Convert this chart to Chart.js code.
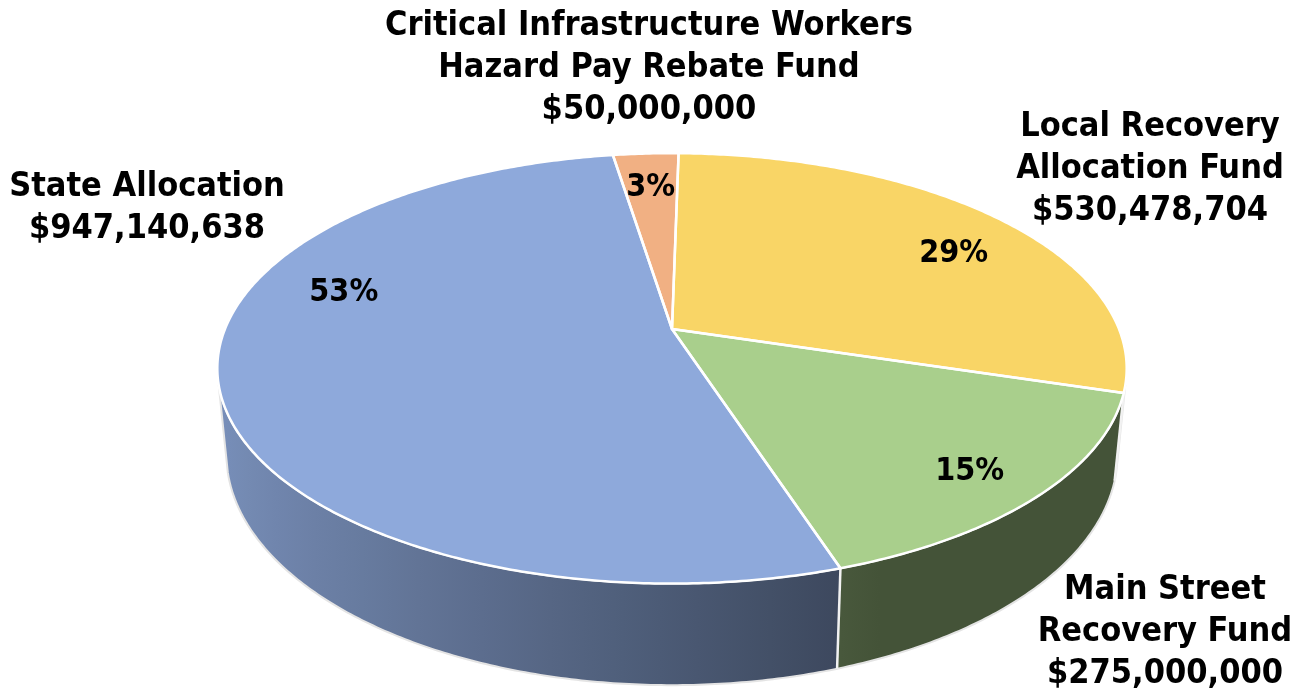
<!DOCTYPE html>
<html>
<head>
<meta charset="utf-8">
<script src="https://cdn.jsdelivr.net/npm/chart.js@4.4.1/dist/chart.umd.min.js"></script>
<style>
  html, body { margin: 0; padding: 0; background: #fff; }
  #wrap { width: 1315px; height: 696px; position: relative; }
</style>
</head>
<body>
<div id="wrap"><canvas id="chart"></canvas></div>
<script>
// slices, clockwise from 12 o'clock
const labels = [
  "Local Recovery Allocation Fund",
  "Main Street Recovery Fund",
  "State Allocation",
  "Critical Infrastructure Workers Hazard Pay Rebate Fund",
];
const amounts = [530478704, 275000000, 947140638, 50000000];
const labelLines = [
  ["Local Recovery", "Allocation Fund"],
  ["Main Street", "Recovery Fund"],
  ["State Allocation"],
  ["Critical Infrastructure Workers", "Hazard Pay Rebate Fund"],
];
const topColors = ["#F9D566", "#A9CF8C", "#8EA9DB", "#F1B083"];

// styling / placement
const outerLabelPos = [[1150, 127], [1165, 590], [147, 187], [649, 26]];
const pctRadius = [0.78, 0.85, 0.78, 0.78];
const pctShiftDeg = [6, 1.5, 27, 0];
const lineGap = 42;
const FONT = "bold 34px 'DejaVu Sans Condensed', 'DejaVu Sans', sans-serif";
const PCT_FONT = "bold 32px 'DejaVu Sans Condensed', 'DejaVu Sans', sans-serif";

// fake 3d view
const view = { A: 447, B: 208, k: 0.183, H: 83, taper: 0.98, wallFrom: 15 * Math.PI / 180 };

const total = amounts.reduce((a, b) => a + b, 0);
const fmtMoney = (v) => "$" + new Intl.NumberFormat("en-US").format(v);

const project = (cx, cy, a, r, h) => {
  const u = Math.cos(a) * r;
  const v = Math.sin(a) * r;
  const s = 1 / (1 - view.k * v);
  const t = 1 - (1 - view.taper) * (h / view.H);
  return [cx + view.A * u * s * t, cy + (view.B * v + h) * s];
};

const shadeOf = (hex, a) => {
  const f = Math.max(0.4, 0.86 - 0.33 * (Math.cos(a) + 1));
  const n = parseInt(hex.slice(1), 16);
  const r = Math.round(((n >> 16) & 255) * f);
  const g = Math.round(((n >> 8) & 255) * f);
  const b = Math.round((n & 255) * f);
  return `rgb(${r},${g},${b})`;
};

const rimPath = (ctx, cx, cy, a1, a2, h, moveFirst) => {
  const steps = Math.max(4, Math.ceil(Math.abs(a2 - a1) / 0.01));
  for (let i = 0; i <= steps; i++) {
    const a = a1 + (a2 - a1) * (i / steps);
    const [x, y] = project(cx, cy, a, 1, h);
    if (i === 0 && moveFirst) ctx.moveTo(x, y);
    else ctx.lineTo(x, y);
  }
};

const pie3d = {
  id: "pie3d",
  beforeDatasetsDraw(chart) {
    const ctx = chart.ctx;
    const arcs = chart.getDatasetMeta(0).data;
    if (!arcs.length) return false;
    const cx = arcs[0].x;
    const cy = arcs[0].y;
    const lo0 = view.wallFrom;
    const hi0 = Math.PI - view.wallFrom;

    ctx.save();
    ctx.lineJoin = "round";

    // side walls
    arcs.forEach((arc) => {
      const lo = Math.max(arc.startAngle, lo0);
      const hi = Math.min(arc.endAngle, hi0);
      if (hi <= lo) return;
      const xl = project(cx, cy, hi, 1, 0)[0];
      const xr = project(cx, cy, lo, 1, 0)[0];
      const grad = ctx.createLinearGradient(xl, 0, xr, 0);
      for (let i = 0; i <= 12; i++) {
        const a = hi - (hi - lo) * (i / 12);
        const x = project(cx, cy, a, 1, 0)[0];
        const stop = Math.min(1, Math.max(0, (x - xl) / (xr - xl || 1)));
        grad.addColorStop(stop, shadeOf(arc.options.backgroundColor, a));
      }
      ctx.beginPath();
      rimPath(ctx, cx, cy, lo, hi, 0, true);
      rimPath(ctx, cx, cy, hi, lo, view.H, false);
      ctx.closePath();
      ctx.fillStyle = grad;
      ctx.fill();
    });

    // wall outline
    ctx.beginPath();
    rimPath(ctx, cx, cy, lo0, hi0, 0, true);
    rimPath(ctx, cx, cy, hi0, lo0, view.H, false);
    ctx.closePath();
    ctx.strokeStyle = "#e4e4e4";
    ctx.lineWidth = 2;
    ctx.stroke();

    // vertical seams between slices on the wall
    arcs.forEach((arc) => {
      const a = arc.startAngle;
      if (a > lo0 && a < hi0) {
        const p = project(cx, cy, a, 1, 0);
        const q = project(cx, cy, a, 1, view.H);
        ctx.beginPath();
        ctx.moveTo(p[0], p[1]);
        ctx.lineTo(q[0], q[1]);
        ctx.strokeStyle = "#f2f2f2";
        ctx.lineWidth = 2.5;
        ctx.stroke();
      }
    });

    // top faces
    arcs.forEach((arc) => {
      ctx.beginPath();
      ctx.moveTo(cx, cy);
      rimPath(ctx, cx, cy, arc.startAngle, arc.endAngle, 0, false);
      ctx.closePath();
      ctx.fillStyle = arc.options.backgroundColor;
      ctx.fill();
    });
    arcs.forEach((arc) => {
      ctx.beginPath();
      ctx.moveTo(cx, cy);
      rimPath(ctx, cx, cy, arc.startAngle, arc.endAngle, 0, false);
      ctx.closePath();
      ctx.strokeStyle = arc.options.borderColor;
      ctx.lineWidth = arc.options.borderWidth;
      ctx.stroke();
    });

    ctx.restore();
    return false;
  },
  afterDraw(chart) {
    const ctx = chart.ctx;
    const arcs = chart.getDatasetMeta(0).data;
    if (!arcs.length) return;
    const cx = arcs[0].x;
    const cy = arcs[0].y;
    ctx.save();
    ctx.fillStyle = "#000";
    ctx.textAlign = "center";
    ctx.textBaseline = "middle";

    arcs.forEach((arc, i) => {
      const mid = (arc.startAngle + arc.endAngle) / 2 + pctShiftDeg[i] * Math.PI / 180;
      const [x, y] = project(cx, cy, mid, pctRadius[i], 0);
      const pct = Math.round((amounts[i] / total) * 100) + "%";
      ctx.font = PCT_FONT;
      ctx.fillText(pct, x, y);

      ctx.font = FONT;
      const lines = labelLines[i].concat([fmtMoney(amounts[i])]);
      const [lx, ly] = outerLabelPos[i];
      lines.forEach((t, j) => ctx.fillText(t, lx, ly + j * lineGap));
    });
    ctx.restore();
  },
};

new Chart(document.getElementById("chart"), {
  type: "pie",
  data: {
    labels,
    datasets: [
      {
        data: amounts,
        backgroundColor: topColors,
        borderColor: "#ffffff",
        borderWidth: 2.5,
      },
    ],
  },
  options: {
    responsive: true,
    maintainAspectRatio: false,
    animation: false,
    rotation: 1,
    layout: { padding: { left: 29, right: 0, top: 0, bottom: 38 } },
    plugins: {
      legend: { display: false },
      tooltip: { enabled: false },
    },
  },
  plugins: [pie3d],
});
</script>
</body>
</html>
